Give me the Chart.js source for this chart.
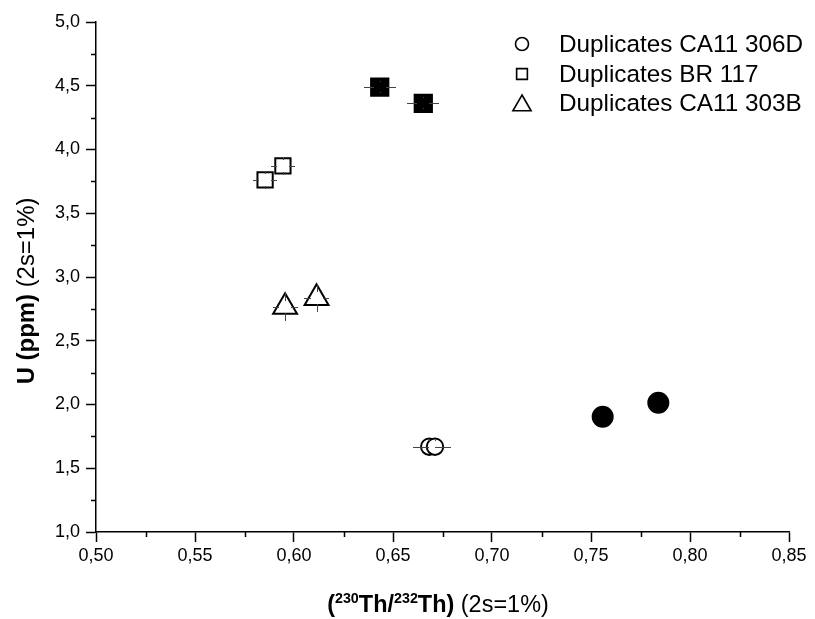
<!DOCTYPE html>
<html><head><meta charset="utf-8">
<script src="https://cdn.jsdelivr.net/npm/chart.js@4/dist/chart.umd.min.js"></script>
<style>html,body{margin:0;padding:0;background:#fff}#wrap{width:815px;height:619px;position:relative}</style>
</head><body><div id="wrap"><canvas id="c" width="815" height="619"></canvas></div>
<script>
// ---- data ----
const seriesNames = ['Duplicates CA11 306D', 'Duplicates BR 117', 'Duplicates CA11 303B'];

const circleX = [0.6683, 0.6712, 0.7559, 0.7840];
const circleY = [1.669, 1.669, 1.904, 2.014];
const circleFilled = [false, false, true, true];
const circleXErr = [0.008, 0.008, 0, 0];
const circleYErr = [0.05, 0.05, 0, 0];

const squareX = [0.5854, 0.5944, 0.6433, 0.6653];
const squareY = [3.761, 3.871, 4.490, 4.362];
const squareFilled = [false, false, true, true];
const squareXErr = [0.006, 0.006, 0.008, 0.008];
const squareYErr = [0.07, 0.07, 0.04, 0.04];

const triangleX = [0.5955, 0.6114];
const triangleY = [2.765, 2.835];
const triangleFilled = [false, false];
const triangleXErr = [0.0063, 0.0063];
const triangleYErr = [0.107, 0.107];

const xTickValues = [0.50, 0.55, 0.60, 0.65, 0.70, 0.75, 0.80, 0.85];
const xTickLabels = ['0,50', '0,55', '0,60', '0,65', '0,70', '0,75', '0,80', '0,85'];
const yTickValues = [1.0, 1.5, 2.0, 2.5, 3.0, 3.5, 4.0, 4.5, 5.0];
const yTickLabels = ['1,0', '1,5', '2,0', '2,5', '3,0', '3,5', '4,0', '4,5', '5,0'];

// ---- helpers ----
function pts(xs, ys) { return xs.map((x, i) => ({x: x, y: ys[i]})); }
function fills(f) { return f.map(v => v ? '#000' : '#fff'); }
function labelFor(values, labels, v) {
  for (let i = 0; i < values.length; i++) if (Math.abs(values[i] - v) < 1e-6) return labels[i];
  return '';
}

const FONT = '"Liberation Sans", Arial, sans-serif';
const errs = [
  {xe: circleXErr, ye: circleYErr},
  {xe: squareXErr, ye: squareYErr},
  {xe: triangleXErr, ye: triangleYErr}
];

const errorBars = {
  id: 'errorBars',
  afterDatasetsDraw(chart) {
    const ctx = chart.ctx, xs = chart.scales.x, ys = chart.scales.y;
    ctx.save();
    ctx.strokeStyle = '#444';
    ctx.lineWidth = 1;
    chart.data.datasets.forEach((ds, di) => {
      ds.data.forEach((p, i) => {
        const px = xs.getPixelForValue(p.x), py = ys.getPixelForValue(p.y);
        const xe = errs[di].xe[i], ye = errs[di].ye[i];
        const gap = 6;
        ctx.beginPath();
        if (xe > 0) {
          const l = xs.getPixelForValue(p.x - xe), r = xs.getPixelForValue(p.x + xe);
          ctx.moveTo(Math.round(l), Math.round(py) + 0.5); ctx.lineTo(Math.round(px - gap), Math.round(py) + 0.5);
          ctx.moveTo(Math.round(px + gap), Math.round(py) + 0.5); ctx.lineTo(Math.round(r), Math.round(py) + 0.5);
        }
        if (ye > 0) {
          const t = ys.getPixelForValue(p.y + ye), b = ys.getPixelForValue(p.y - ye);
          ctx.moveTo(Math.round(px) + 0.5, Math.round(t)); ctx.lineTo(Math.round(px) + 0.5, Math.round(py - gap));
          ctx.moveTo(Math.round(px) + 0.5, Math.round(py + gap)); ctx.lineTo(Math.round(px) + 0.5, Math.round(b));
        }
        ctx.stroke();
      });
    });
    ctx.restore();
  }
};

function drawRuns(ctx, runs, x, y, stretch) {
  let total = 0;
  runs.forEach(r => { ctx.font = r.font; r.w = ctx.measureText(r.text).width; total += r.w; });
  ctx.save();
  ctx.translate(x, y);
  ctx.scale(stretch, 1);
  let cx = -total / 2;
  ctx.textBaseline = 'alphabetic';
  ctx.textAlign = 'left';
  runs.forEach(r => { ctx.font = r.font; ctx.fillText(r.text, cx, r.dy || 0); cx += r.w; });
  ctx.restore();
}

const decorations = {
  id: 'decorations',
  afterDraw(chart) {
    const ctx = chart.ctx, xs = chart.scales.x, ys = chart.scales.y;
    ctx.save();
    ctx.fillStyle = '#000';
    ctx.strokeStyle = '#000';
    // minor ticks
    ctx.lineWidth = 1.5;
    ctx.beginPath();
    for (let v = 0.525; v < 0.85; v += 0.05) {
      const px = Math.round(xs.getPixelForValue(v)) + 0.5;
      ctx.moveTo(px, xs.top); ctx.lineTo(px, xs.top + 5);
    }
    for (let v = 1.25; v < 5; v += 0.5) {
      const py = Math.round(ys.getPixelForValue(v)) + 0.5;
      ctx.moveTo(ys.right, py); ctx.lineTo(ys.right - 5, py);
    }
    ctx.stroke();

    // legend
    const mx = 522, tx = 559;
    const rowY = [44, 74, 103.5];
    const styles = ['circle', 'rect', 'triangle'];
    const radii = [6.5, 7.6, 10.5];
    styles.forEach((s, i) => {
      ctx.fillStyle = '#fff';
      ctx.strokeStyle = '#000';
      ctx.lineWidth = 1.6;
      Chart.helpers.drawPoint(ctx, {pointStyle: s, radius: radii[i], borderWidth: 1.6, rotation: 0}, mx, rowY[i] + (s === 'triangle' ? 2 : 0));
    });
    ctx.fillStyle = '#000';
    ctx.font = '24.3px ' + FONT;
    ctx.textBaseline = 'middle';
    ctx.textAlign = 'left';
    seriesNames.forEach((n, i) => { ctx.fillText(n, tx, rowY[i] + 1); });

    // x title
    const B = 'bold 23px ' + FONT, Bs = 'bold 14px ' + FONT, R = '23px ' + FONT;
    drawRuns(ctx, [
      {text: '(', font: B},
      {text: '230', font: Bs, dy: -9},
      {text: 'Th/', font: B},
      {text: '232', font: Bs, dy: -9},
      {text: 'Th)', font: B},
      {text: ' (2s=1%)', font: R}
    ], 438, 612, 1.02);

    // y title
    ctx.save();
    ctx.translate(34, 291);
    ctx.rotate(-Math.PI / 2);
    drawRuns(ctx, [
      {text: 'U (ppm)', font: 'bold 23px ' + FONT},
      {text: ' (2s=1%)', font: '23px ' + FONT}
    ], 0, 0, 1.04);
    ctx.restore();
    ctx.restore();
  }
};

const tickFont = {family: FONT, size: 18};

new Chart(document.getElementById('c'), {
  type: 'scatter',
  data: {
    datasets: [
      {label: seriesNames[0], data: pts(circleX, circleY), pointStyle: 'circle',
       pointRadius: circleFilled.map(f => f ? 10 : 8.2), pointBackgroundColor: fills(circleFilled),
       pointBorderColor: '#000', pointBorderWidth: 2},
      {label: seriesNames[1], data: pts(squareX, squareY), pointStyle: 'rect',
       pointRadius: squareFilled.map(f => f ? 12.2 : 10.8), pointBackgroundColor: fills(squareFilled),
       pointBorderColor: '#000', pointBorderWidth: 2},
      {label: seriesNames[2], data: pts(triangleX, triangleY), pointStyle: 'triangle',
       pointRadius: 13.8, pointBackgroundColor: fills(triangleFilled),
       pointBorderColor: '#000', pointBorderWidth: 2}
    ]
  },
  options: {
    responsive: false,
    animation: false,
    events: [],
    layout: {padding: {left: 0, top: 22, right: 26, bottom: 0}},
    plugins: {legend: {display: false}, tooltip: {enabled: false}, title: {display: false}},
    scales: {
      x: {
        type: 'linear', min: 0.5, max: 0.85,
        afterFit: s => { s.height = 87; },
        afterBuildTicks: s => { s.ticks = xTickValues.map(v => ({value: v})); },
        border: {display: true, color: '#000', width: 1.5},
        grid: {drawOnChartArea: false, drawTicks: true, tickLength: 10, tickColor: '#000', tickWidth: 1.5},
        ticks: {autoSkip: false, maxRotation: 0, padding: 3, color: '#000', font: tickFont,
                callback: v => labelFor(xTickValues, xTickLabels, v)}
      },
      y: {
        type: 'linear', min: 1, max: 5,
        afterFit: s => { s.width = 96; },
        afterBuildTicks: s => { s.ticks = yTickValues.map(v => ({value: v})); },
        border: {display: true, color: '#000', width: 1.5},
        grid: {drawOnChartArea: false, drawTicks: true, tickLength: 10, tickColor: '#000', tickWidth: 1.5},
        ticks: {autoSkip: false, padding: 6, color: '#000', font: tickFont,
                callback: v => labelFor(yTickValues, yTickLabels, v)}
      }
    }
  },
  plugins: [errorBars, decorations]
});
</script>
</body></html>
